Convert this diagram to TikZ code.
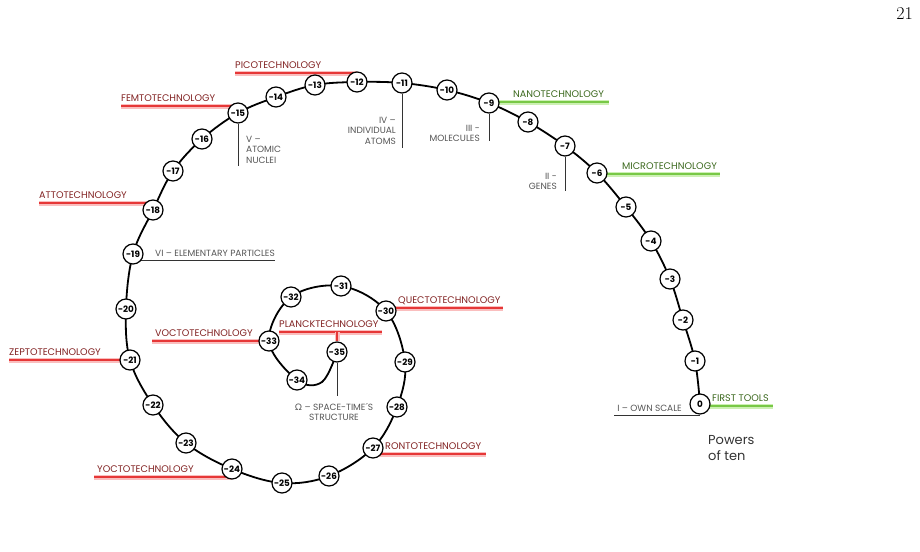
\documentclass[tikz,border=0pt]{standalone}
\usepackage{fontspec}
\newfontfamily\gfont{Poppins}
\newfontfamily\gkfont{Lato}
\usetikzlibrary{backgrounds}
\definecolor{redtxt}{RGB}{130,35,35}
\definecolor{redln}{RGB}{230,55,55}
\definecolor{redglow}{RGB}{250,190,190}
\definecolor{greentxt}{RGB}{60,105,30}
\definecolor{greenln}{RGB}{120,200,70}
\definecolor{greenglow}{RGB}{205,240,180}
\definecolor{greytxt}{RGB}{85,85,85}
\begin{document}
\begin{tikzpicture}[x=1pt,y=-1pt,
  num/.style={circle,draw,line width=1.2pt,fill=white,minimum size=20pt,inner sep=0pt,
    font=\gfont\bfseries\fontsize{8.8}{8.8}\selectfont},
  techred/.style={inner xsep=0pt,inner ysep=4.5pt,text depth=0pt,text=redtxt,
    font=\gfont\fontsize{9.6}{9.6}\selectfont},
  techgreen/.style={techred,text=greentxt},
  redul/.style={line width=1.5pt,draw=redln,preaction={draw=redglow,line width=5pt}},
  greenul/.style={line width=1.5pt,draw=greenln,preaction={draw=greenglow,line width=5pt}},
  grey/.style={inner sep=0pt,text=greytxt,font=\gfont\fontsize{9}{10.5}\selectfont},
  leader/.style={line width=0.9pt,draw=black!80},
  spiral/.style={line width=1.8pt}]
\useasboundingbox (0,0) rectangle (920,551);

% page number
\node[anchor=north east,inner sep=0pt,font=\fontsize{18}{18}\selectfont] (pg) at (913,7) {21};

% numbered nodes
\foreach \i/\x/\y in {0/700/404,1/695/361,2/683/320,3/670/279,4/651/241,5/626/207,
  6/597/173,7/565/146,8/528/122,9/489/103,10/447/90,11/402/83,12/357/82,13/315/85,
  14/276/97,15/238/113,16/202/139,17/173/171,18/153/210,19/133/254,20/126/309,
  21/130/360,22/153/405,23/186/443,24/232/469,25/282/483,26/329/476,27/373/448,
  28/397/407,29/405/362,30/386/311,31/341/286,32/291/297,33/269/341,34/297/380,35/337/352}
  {\node[num] (n\i) at (\x,\y) {\ifnum\i=0 0\else -\i\fi};}
\coordinate (k34) at (322,382);

% technology labels
\node[techred,anchor=south west] (pico) at (235,73) {PICOTECHNOLOGY};
\node[techred,anchor=south west] (femto) at (121,106) {FEMTOTECHNOLOGY};
\node[techred,anchor=south west] (atto) at (39,203) {ATTOTECHNOLOGY};
\node[techred,anchor=south west] (zepto) at (9,360) {ZEPTOTECHNOLOGY};
\node[techred,anchor=south west] (yocto) at (97,477) {YOCTOTECHNOLOGY};
\node[techred,anchor=south west] (vocto) at (155,341) {VOCTOTECHNOLOGY};
\node[techred,anchor=south west] (planck) at (279,332) {PLANCKTECHNOLOGY};
\node[techred,anchor=south west] (quecto) at (398,308) {QUECTOTECHNOLOGY};
\node[techred,anchor=south west] (ronto) at (385,454) {RONTOTECHNOLOGY};
\node[techgreen,anchor=south west] (nano) at (513,102) {NANOTECHNOLOGY};
\node[techgreen,anchor=south west] (micro) at (622,174) {MICROTECHNOLOGY};
\node[techgreen,anchor=south west] (first) at (712,406) {FIRST TOOLS};

% scale labels
\node[grey,align=right,anchor=north east] (genes) at (557,173) {II -\\GENES};
\node[grey,align=right,anchor=north east] (molec) at (480,125) {III -\\MOLECULES};
\node[grey,align=right,anchor=north east] (atoms) at (396,117) {IV –\\INDIVIDUAL\\ATOMS};
\node[grey,align=left,anchor=north west] (nuclei) at (246,136) {V –\\ATOMIC\\NUCLEI};
\node[grey,align=center,anchor=north] (omega) at (334,403) {{\gkfont Ω} – SPACE-TIME´S\\STRUCTURE};
\node[grey,anchor=base west] (elem) at (155,256) {VI – ELEMENTARY PARTICLES};
\node[grey,anchor=base east] (own) at (682,411) {I – OWN SCALE};
\node[inner sep=0pt,align=left,anchor=north west,text=black!80,
  font=\gfont\fontsize{13}{16}\selectfont] (powers) at (708,435) {Powers\\of ten};

\coordinate (e7) at (565,191);
\coordinate (e9) at (489,141);
\coordinate (e11) at (402,148);
\coordinate (e15) at (238,166);
\coordinate (e35) at (337,396);
\coordinate (e19) at (275,260);
\coordinate (e0) at (614,415);

\begin{pgfonlayer}{background}
\draw[spiral] plot[smooth,tension=0.6] coordinates {(n0) (n1) (n2) (n3) (n4) (n5) (n6) (n7) (n8) (n9)
  (n10) (n11) (n12) (n13) (n14) (n15) (n16) (n17) (n18) (n19) (n20) (n21) (n22) (n23) (n24)
  (n25) (n26) (n27) (n28) (n29) (n30) (n31) (n32) (n33) (n34) (k34) (n35)};
% underlines
\draw[redul] (pico.south west) -- (pico.south west -| n12.center);
\draw[redul] (femto.south west) -- (femto.south west -| n15.center);
\draw[redul] (atto.south west) -- (atto.south west -| n18.center);
\draw[redul] (zepto.south west) -- (zepto.south west -| n21.center);
\draw[redul] ([xshift=-3pt]yocto.south west) -- (yocto.south west -| n24.center);
\draw[redul] ([xshift=-3pt]vocto.south west) -- (vocto.south west -| n33.center);
\draw[redul] (planck.south west) -- ([xshift=3pt]planck.south east);
\draw[redul] (n35.center |- planck.south) -- (n35);
\draw[redul] (n30.center |- quecto.south west) -- ([xshift=2pt]quecto.south east);
\draw[redul] (n27.center |- ronto.south west) -- ([xshift=4pt]ronto.south east);
\draw[greenul] (n9.center |- nano.south west) -- ([xshift=5pt]nano.south east);
\draw[greenul] (n6.center |- micro.south west) -- ([xshift=3pt]micro.south east);
\draw[greenul] (n0.center |- first.south west) -- ([xshift=4pt]first.south east);
% leaders
\draw[leader] (n7) -- (e7);
\draw[leader] (n9) -- (e9);
\draw[leader] (n11) -- (e11);
\draw[leader] (n15) -- (e15);
\draw[leader] (n35) -- (e35);
\draw[leader] (n19.center |- e19) -- (e19);
\draw[leader] (e0) -- (e0 -| n0.center);
\end{pgfonlayer}
\end{tikzpicture}
\end{document}
